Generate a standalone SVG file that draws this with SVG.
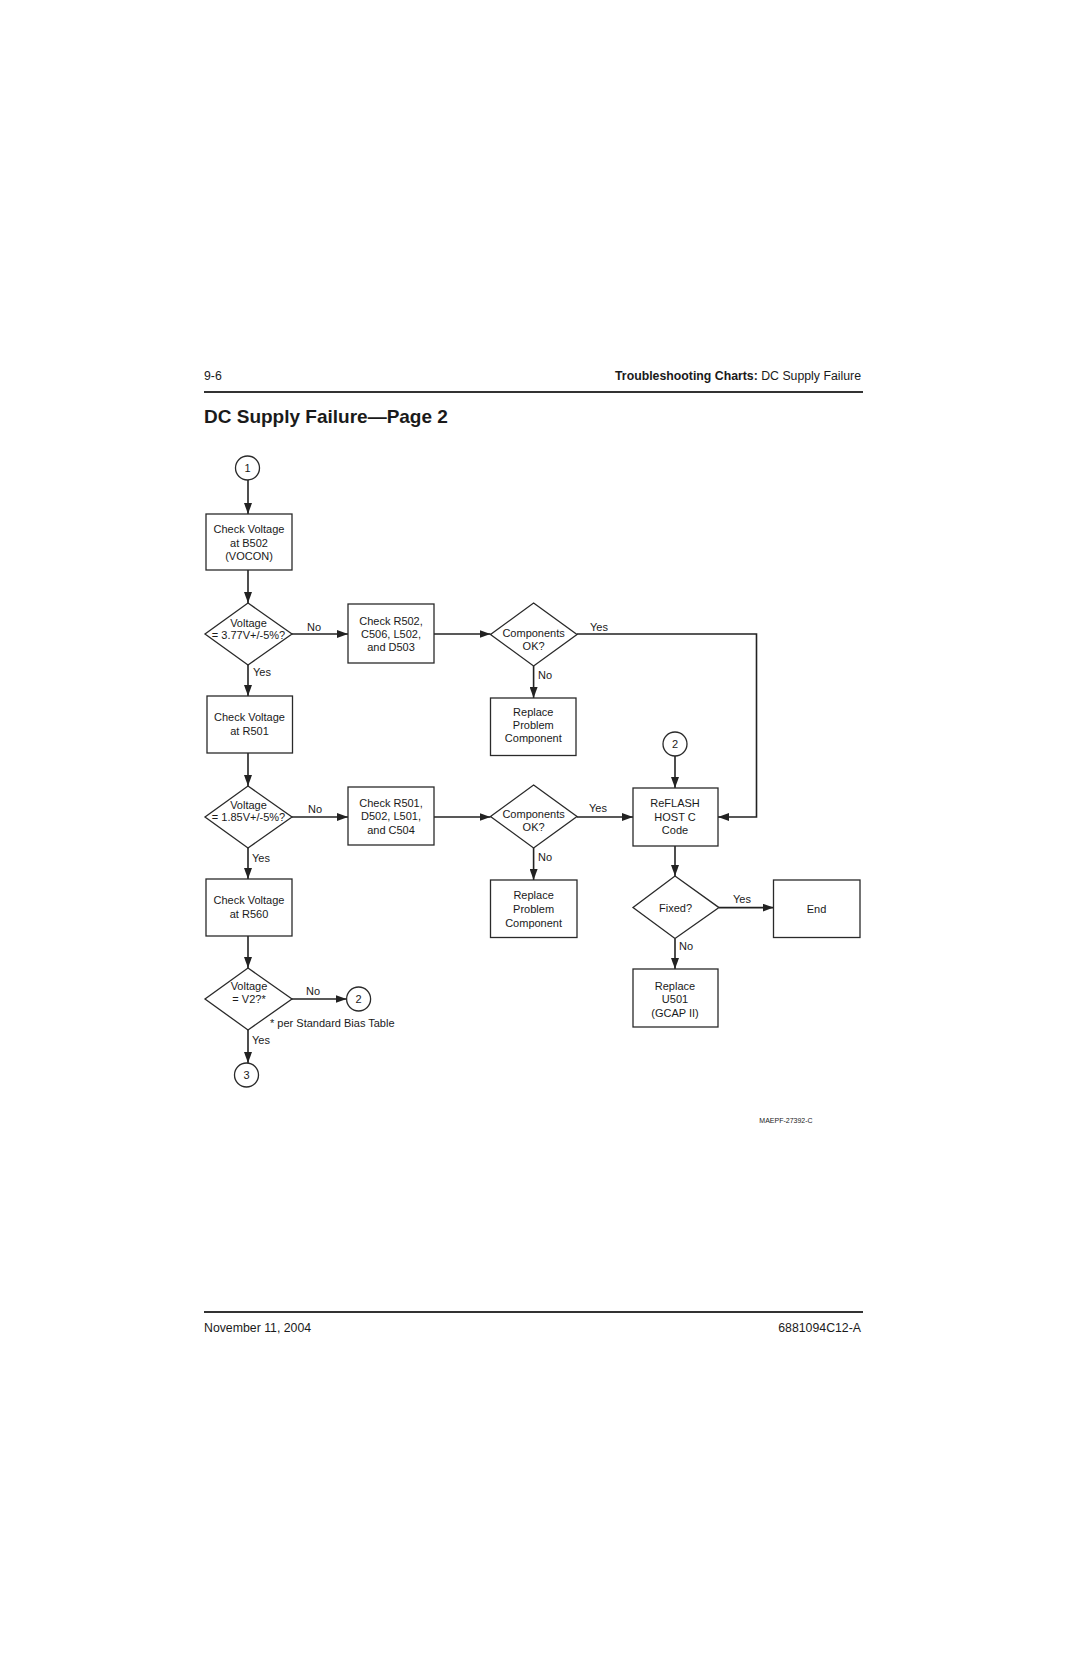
<svg xmlns="http://www.w3.org/2000/svg" width="1080" height="1669" viewBox="0 0 1080 1669">
<style>
  text { font-family: "Liberation Sans", Arial, sans-serif; fill: #1a1a1a; }
  .n { font-size: 11px; text-anchor: middle; }
  .lbl { font-size: 11px; text-anchor: middle; }
  .shape { fill: #fff; stroke: #2a2a2a; stroke-width: 1.3; }
  .conn { fill: none; stroke: #222; stroke-width: 1.6; }
  .hdr { font-size: 12.3px; }
</style>
<defs>
  <marker id="arr" markerUnits="userSpaceOnUse" markerWidth="11" markerHeight="8" refX="11" refY="4" orient="auto">
    <path d="M0,0 L11,4 L0,8 z" fill="#222"/>
  </marker>
</defs>
<rect width="1080" height="1669" fill="#fff"/>

<!-- header -->
<text class="hdr" x="204" y="380">9-6</text>
<text class="hdr" x="861" y="380" text-anchor="end"><tspan font-weight="bold">Troubleshooting Charts:</tspan> DC Supply Failure</text>
<line x1="204" y1="392" x2="863" y2="392" stroke="#333" stroke-width="2"/>
<text x="204" y="423" font-size="19" font-weight="bold">DC Supply Failure—Page 2</text>

<!-- connectors -->
<g id="connectors">
  <path class="conn" d="M248,480 V514" marker-end="url(#arr)"/>
  <path class="conn" d="M248,570 V603" marker-end="url(#arr)"/>
  <path class="conn" d="M292,634 H348" marker-end="url(#arr)"/>
  <path class="conn" d="M434,634 H490.5" marker-end="url(#arr)"/>
  <path class="conn" d="M577,634 H756.5 V817 H718" marker-end="url(#arr)"/>
  <path class="conn" d="M533.6,666 V698" marker-end="url(#arr)"/>
  <path class="conn" d="M248,665 V696" marker-end="url(#arr)"/>
  <path class="conn" d="M248,753 V786" marker-end="url(#arr)"/>
  <path class="conn" d="M292,817 H348" marker-end="url(#arr)"/>
  <path class="conn" d="M434,817 H490.5" marker-end="url(#arr)"/>
  <path class="conn" d="M577,817 H633" marker-end="url(#arr)"/>
  <path class="conn" d="M533.6,848 V880" marker-end="url(#arr)"/>
  <path class="conn" d="M248,848 V879" marker-end="url(#arr)"/>
  <path class="conn" d="M248,936 V968" marker-end="url(#arr)"/>
  <path class="conn" d="M292,999 H346.6" marker-end="url(#arr)"/>
  <path class="conn" d="M248,1030 V1063" marker-end="url(#arr)"/>
  <path class="conn" d="M675,756 V788" marker-end="url(#arr)"/>
  <path class="conn" d="M675,846 V876" marker-end="url(#arr)"/>
  <path class="conn" d="M719,907.6 H773.5" marker-end="url(#arr)"/>
  <path class="conn" d="M675,938.5 V969" marker-end="url(#arr)"/>
</g>

<!-- connector labels -->
<g id="labels">
  <text class="lbl" x="314" y="631">No</text>
  <text class="lbl" x="262" y="676">Yes</text>
  <text class="lbl" x="599" y="631">Yes</text>
  <text class="lbl" x="545" y="679">No</text>
  <text class="lbl" x="315" y="813">No</text>
  <text class="lbl" x="261" y="862">Yes</text>
  <text class="lbl" x="598" y="812">Yes</text>
  <text class="lbl" x="545" y="861">No</text>
  <text class="lbl" x="313" y="995">No</text>
  <text class="lbl" x="261" y="1044">Yes</text>
  <text class="lbl" x="742" y="903">Yes</text>
  <text class="lbl" x="686" y="950">No</text>
  <text x="270" y="1026.5" font-size="11">* per Standard Bias Table</text>
</g>

<!-- nodes -->
<g id="conn1">
  <circle class="shape" cx="247.5" cy="468" r="12"/>
  <text class="n" x="247.5" y="472">1</text>
</g>
<g id="box-b502">
  <rect class="shape" x="206" y="514" width="86" height="56"/>
  <text class="n" x="249" y="533">Check Voltage</text>
  <text class="n" x="249" y="546.5">at B502</text>
  <text class="n" x="249" y="559.5">(VOCON)</text>
</g>
<g id="dec-377">
  <polygon class="shape" points="248,603 292,634 248,665 205,634"/>
  <text class="n" x="248.5" y="626.5">Voltage</text>
  <text class="n" x="248.5" y="638.5">= 3.77V+/-5%?</text>
</g>
<g id="box-r502">
  <rect class="shape" x="348" y="604" width="86" height="59"/>
  <text class="n" x="391" y="624.5">Check R502,</text>
  <text class="n" x="391" y="638">C506, L502,</text>
  <text class="n" x="391" y="651">and D503</text>
</g>
<g id="dec-comp1">
  <polygon class="shape" points="533.6,603 577,634.5 533.6,666 490.5,634.5"/>
  <text class="n" x="533.6" y="636.7">Components</text>
  <text class="n" x="533.6" y="650">OK?</text>
</g>
<g id="box-replace1">
  <rect class="shape" x="490.5" y="698" width="85.5" height="57.5"/>
  <text class="n" x="533.3" y="716">Replace</text>
  <text class="n" x="533.3" y="729">Problem</text>
  <text class="n" x="533.3" y="742">Component</text>
</g>
<g id="box-r501">
  <rect class="shape" x="207" y="696" width="85.5" height="57"/>
  <text class="n" x="249.5" y="721">Check Voltage</text>
  <text class="n" x="249.5" y="735">at R501</text>
</g>
<g id="dec-185">
  <polygon class="shape" points="248,786 292,817 248,848 205,817"/>
  <text class="n" x="248.5" y="808.5">Voltage</text>
  <text class="n" x="248.5" y="821">= 1.85V+/-5%?</text>
</g>
<g id="box-r501b">
  <rect class="shape" x="348" y="787" width="86" height="58"/>
  <text class="n" x="391" y="807">Check R501,</text>
  <text class="n" x="391" y="820">D502, L501,</text>
  <text class="n" x="391" y="834">and C504</text>
</g>
<g id="dec-comp2">
  <polygon class="shape" points="533.6,785 577,816.5 533.6,848 490.5,816.5"/>
  <text class="n" x="533.6" y="818">Components</text>
  <text class="n" x="533.6" y="831">OK?</text>
</g>
<g id="box-replace2">
  <rect class="shape" x="490.5" y="880" width="86.5" height="57.5"/>
  <text class="n" x="533.6" y="899">Replace</text>
  <text class="n" x="533.6" y="912.5">Problem</text>
  <text class="n" x="533.6" y="926.5">Component</text>
</g>
<g id="box-r560">
  <rect class="shape" x="206" y="879" width="86" height="57"/>
  <text class="n" x="249" y="904">Check Voltage</text>
  <text class="n" x="249" y="918">at R560</text>
</g>
<g id="dec-v2">
  <polygon class="shape" points="248,968 292,999 248,1030 205,999"/>
  <text class="n" x="249" y="990">Voltage</text>
  <text class="n" x="249" y="1003">= V2?*</text>
</g>
<g id="conn2a">
  <circle class="shape" cx="358.6" cy="999" r="12"/>
  <text class="n" x="358.6" y="1003">2</text>
</g>
<g id="conn3">
  <circle class="shape" cx="246.5" cy="1075" r="12"/>
  <text class="n" x="246.5" y="1079">3</text>
</g>
<g id="conn2b">
  <circle class="shape" cx="675" cy="744" r="12"/>
  <text class="n" x="675" y="748">2</text>
</g>
<g id="box-reflash">
  <rect class="shape" x="633" y="788" width="85" height="58"/>
  <text class="n" x="675" y="807.3">ReFLASH</text>
  <text class="n" x="675" y="821">HOST C</text>
  <text class="n" x="675" y="834">Code</text>
</g>
<g id="dec-fixed">
  <polygon class="shape" points="675,876 719,907.6 675,938.5 633,907.6"/>
  <text class="n" x="675.5" y="911.6">Fixed?</text>
</g>
<g id="box-end">
  <rect class="shape" x="773.5" y="880" width="86.5" height="57.5"/>
  <text class="n" x="816.5" y="912.7">End</text>
</g>
<g id="box-u501">
  <rect class="shape" x="633" y="969" width="85" height="58"/>
  <text class="n" x="675" y="990">Replace</text>
  <text class="n" x="675" y="1003">U501</text>
  <text class="n" x="675" y="1017">(GCAP II)</text>
</g>

<text x="786" y="1122.5" font-size="7" text-anchor="middle" fill="#444">MAEPF-27392-C</text>

<!-- footer -->
<line x1="204" y1="1312" x2="863" y2="1312" stroke="#333" stroke-width="2"/>
<text class="hdr" x="204" y="1332">November 11, 2004</text>
<text class="hdr" x="861" y="1332" text-anchor="end">6881094C12-A</text>
</svg>
